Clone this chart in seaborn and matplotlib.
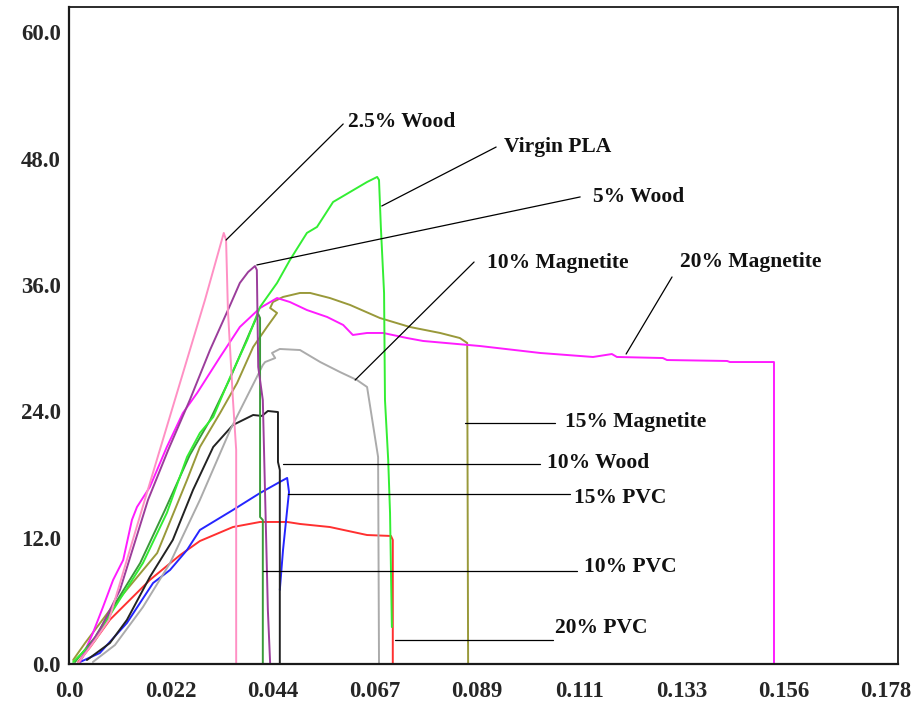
import numpy as np
import pandas as pd
import matplotlib
matplotlib.use("Agg")
import matplotlib.pyplot as plt
import seaborn as sns

# Stress (MPa) vs strain curves for PLA blends
virgin_strain = [0.0009, 0.0057, 0.0096, 0.0161, 0.0213, 0.0235, 0.0257, 0.0285, 0.0314, 0.0351,
                 0.0388, 0.0416, 0.0453, 0.0481, 0.0518, 0.0540, 0.0575, 0.0612, 0.0649, 0.0671,
                 0.0675, 0.0679, 0.0686, 0.0688, 0.0695, 0.0699, 0.0703]
virgin_stress = [0.19, 2.28, 5.13, 9.59, 14.34, 17.00, 19.66, 21.94, 23.46, 27.26,
                 30.77, 33.91, 36.19, 38.37, 40.94, 41.51, 43.88, 44.83, 45.78, 46.26,
                 45.97, 41.51, 35.24, 25.07, 19.38, 14.34, 3.51]

wood25_strain = [0.0020, 0.0057, 0.0087, 0.0165, 0.0296, 0.0337, 0.0342, 0.0346, 0.0357, 0.0364, 0.0364]
wood25_stress = [0.09, 2.28, 4.18, 15.58, 34.57, 40.94, 40.27, 33.62, 25.07, 20.33, 0.0]

wood5_strain = [0.0020, 0.0067, 0.0111, 0.0172, 0.0216, 0.0263, 0.0307, 0.0351, 0.0372, 0.0390,
                0.0405, 0.0409, 0.0412, 0.0422, 0.0433, 0.0438]
wood5_stress = [0.0, 3.23, 7.03, 15.58, 20.33, 25.07, 29.82, 34.10, 36.19, 37.23,
                37.80, 37.42, 28.21, 25.07, 5.13, 0.0]

wood10_strain = [0.0039, 0.0089, 0.0126, 0.0176, 0.0226, 0.0270, 0.0314, 0.0357, 0.0401, 0.0420,
                 0.0433, 0.0455, 0.0455, 0.0459, 0.0459]
wood10_stress = [0.38, 1.99, 4.18, 8.26, 11.78, 16.53, 20.61, 22.70, 23.65, 23.56,
                 24.03, 23.93, 19.19, 18.43, 0.0]

mag10_strain = [0.0052, 0.0100, 0.0161, 0.0220, 0.0285, 0.0351, 0.0409, 0.0422, 0.0427, 0.0449,
                0.0442, 0.0459, 0.0503, 0.0547, 0.0590, 0.0627, 0.0649, 0.0673, 0.0675]
mag10_stress = [0.19, 1.80, 5.41, 9.59, 15.58, 22.23, 27.26, 28.40, 28.68, 29.06,
                29.54, 29.92, 29.82, 28.68, 27.73, 26.97, 26.31, 19.66, 0.0]

mag15_strain = [0.0009, 0.0035, 0.0089, 0.0192, 0.0257, 0.0285, 0.0329, 0.0366, 0.0401, 0.0431,
                0.0453, 0.0438, 0.0444, 0.0466, 0.0503, 0.0525, 0.0568, 0.0612, 0.0677, 0.0742,
                0.0808, 0.0851, 0.0867, 0.0869]
mag15_stress = [0.38, 1.99, 5.13, 10.54, 17.48, 20.61, 23.84, 26.69, 30.11, 32.01,
                33.34, 33.81, 34.38, 34.86, 35.24, 35.24, 34.76, 34.10, 32.86, 32.01,
                31.44, 30.96, 30.49, 0.0]

mag20_strain = [0.0024, 0.0052, 0.0074, 0.0096, 0.0118, 0.0137, 0.0148, 0.0176, 0.0213, 0.0248,
                0.0279, 0.0329, 0.0372, 0.0416, 0.0453, 0.0481, 0.0518, 0.0562, 0.0597, 0.0618,
                0.0649, 0.0684, 0.0736, 0.0771, 0.0895, 0.1026, 0.1141, 0.1182, 0.1193, 0.1293,
                0.1302, 0.1433, 0.1439, 0.1535, 0.1535]
mag20_stress = [0.19, 2.94, 5.41, 7.98, 9.88, 13.68, 14.91, 16.81, 20.61, 23.84,
                25.74, 29.16, 32.01, 33.81, 34.76, 34.38, 33.62, 32.96, 32.20, 31.25,
                31.44, 31.44, 30.96, 30.68, 30.20, 29.54, 29.16, 29.44, 29.16, 29.06,
                28.87, 28.78, 28.68, 28.68, 0.0]

pvc10_strain = [0.0013, 0.0057, 0.0096, 0.0155, 0.0209, 0.0263, 0.0307, 0.0351, 0.0394, 0.0412,
                0.0416, 0.0416, 0.0422, 0.0422]
pvc10_stress = [0.19, 2.56, 5.41, 9.59, 14.63, 19.85, 23.17, 27.16, 31.53, 33.24,
                32.86, 13.96, 13.68, 0.0]

pvc15_strain = [0.0024, 0.0067, 0.0126, 0.0183, 0.0220, 0.0257, 0.0285, 0.0357, 0.0416, 0.0459,
                0.0475, 0.0479, 0.0466, 0.0459]
pvc15_stress = [0.19, 1.04, 3.89, 7.69, 8.93, 10.83, 12.73, 14.63, 16.24, 17.29,
                17.67, 16.34, 10.83, 7.03]

pvc20_strain = [0.0020, 0.0046, 0.0089, 0.0176, 0.0242, 0.0285, 0.0357, 0.0416, 0.0475, 0.0503,
                0.0568, 0.0649, 0.0701, 0.0705, 0.0705]
pvc20_stress = [0.19, 1.60, 4.20, 7.98, 10.35, 11.68, 13.01, 13.49, 13.49, 13.30,
                13.01, 12.25, 12.16, 11.78, 0.0]

series_names = ["20% PVC", "15% PVC", "10% Wood", "10% Magnetite", "15% Magnetite",
                "20% Magnetite", "10% PVC", "Virgin PLA", "5% Wood", "2.5% Wood"]
series_strain = [pvc20_strain, pvc15_strain, wood10_strain, mag10_strain, mag15_strain,
                 mag20_strain, pvc10_strain, virgin_strain, wood5_strain, wood25_strain]
series_stress = [pvc20_stress, pvc15_stress, wood10_stress, mag10_stress, mag15_stress,
                 mag20_stress, pvc10_stress, virgin_stress, wood5_stress, wood25_stress]
series_colors = ["#ff3030", "#2525ff", "#222222", "#ababab", "#99993a",
                 "#ff1cff", "#3a9a3a", "#33ee33", "#9b3d9b", "#ff90c4"]

x_tick_labels = ["0.0", "0.022", "0.044", "0.067", "0.089", "0.111", "0.133", "0.156", "0.178"]
y_tick_values = [0, 12, 24, 36, 48, 60]
y_tick_labels = ["0.0", "12.0", "24.0", "36.0", "48.0", "60.0"]

frames = []
for name, xs, ys in zip(series_names, series_strain, series_stress):
    frames.append(pd.DataFrame({"strain": xs, "stress": ys, "sample": name,
                                "order": np.arange(len(xs))}))
df = pd.concat(frames, ignore_index=True)

sns.set_style("white")
plt.rcParams["font.family"] = ["Liberation Serif", "DejaVu Serif"]
plt.rcParams["font.weight"] = "bold"

fig = plt.figure(figsize=(9.22, 7.11), dpi=100)
ax = fig.add_axes([69 / 922, 47 / 711, 829 / 922, 657 / 711])

sns.lineplot(data=df, x="strain", y="stress", hue="sample", hue_order=series_names,
             palette=dict(zip(series_names, series_colors)), sort=False, estimator=None,
             units="sample", linewidth=1.4, legend=False, ax=ax)

ax.set_xlim(0, 0.1805)
ax.set_ylim(0, 62.4)
ax.set_xticks([k * 0.2 / 9 for k in range(len(x_tick_labels))])
ax.set_xticklabels(x_tick_labels)
ax.set_yticks(y_tick_values)
ax.set_yticklabels(y_tick_labels)
ax.tick_params(axis="both", length=0, labelsize=16.5)
ax.tick_params(axis="x", pad=12)
ax.tick_params(axis="y", pad=6)
for lbl in ax.get_xticklabels() + ax.get_yticklabels():
    lbl.set_fontweight("bold")
ax.set_xlabel("")
ax.set_ylabel("")
for side in ["left", "bottom", "right", "top"]:
    ax.spines[side].set_visible(True)
    ax.spines[side].set_color("#1a1a1a")
    ax.spines[side].set_linewidth(1.6 if side in ("left", "bottom") else 1.3)

# Leader lines from each curve to its label
callouts = [
    ("2.5% Wood", (0.0342, 40.27), (0.0597, 51.29), (0.0607, 51.48)),
    ("Virgin PLA", (0.0681, 43.50), (0.0930, 49.10), (0.0947, 49.10)),
    ("5% Wood", (0.0409, 37.90), (0.1113, 44.36), (0.1141, 44.36)),
    ("10% Magnetite", (0.0623, 26.97), (0.0882, 38.18), (0.0910, 38.09)),
    ("20% Magnetite", (0.1213, 29.44), (0.1313, 36.76), (0.1330, 38.18)),
    ("15% Magnetite", (0.0862, 22.89), (0.1058, 22.89), (0.1080, 22.98)),
    ("10% Wood", (0.0466, 18.99), (0.1026, 18.99), (0.1041, 19.09)),
    ("15% PVC", (0.0477, 16.15), (0.1091, 16.15), (0.1100, 15.77)),
    ("10% PVC", (0.0422, 8.83), (0.1106, 8.83), (0.1121, 9.21)),
    ("20% PVC", (0.0710, 2.28), (0.1054, 2.28), (0.1058, 3.42)),
]
for text, start, end, pos in callouts:
    ax.plot([start[0], end[0]], [start[1], end[1]], color="black", linewidth=0.9)
    ax.text(pos[0], pos[1], text, ha="left", va="center", fontsize=15.5,
            fontweight="bold", color="#111111")

fig.savefig("out.png", dpi=100)
